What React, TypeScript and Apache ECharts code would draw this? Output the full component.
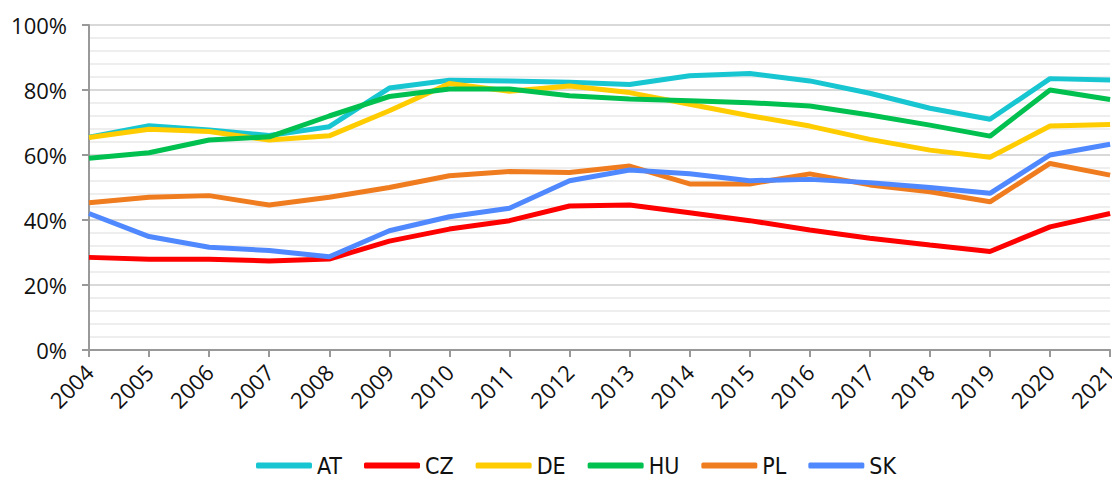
import React, { useEffect, useRef } from "react";
import * as echarts from "echarts";

const years = ["2004","2005","2006","2007","2008","2009","2010","2011","2012","2013","2014","2015","2016","2017","2018","2019","2020","2021"];
const AT = [65.5, 69, 67.7, 66, 68.7, 80.6, 83, 82.8, 82.4, 81.7, 84.4, 85.1, 82.8, 79, 74.4, 71, 83.5, 83.1];
const CZ = [28.5, 27.9, 27.9, 27.4, 28, 33.5, 37.2, 39.8, 44.3, 44.6, 42.2, 39.8, 36.9, 34.4, 32.3, 30.3, 37.9, 42];
const DE = [65.4, 67.9, 67.2, 64.6, 65.9, 73.6, 82, 79.6, 81.2, 79.2, 75.6, 72.1, 68.9, 64.8, 61.5, 59.3, 68.9, 69.4];
const HU = [59, 60.7, 64.6, 65.6, 72, 78, 80.3, 80.3, 78.2, 77.2, 76.7, 76.1, 75.1, 72.3, 69.2, 65.8, 80, 77.1];
const PL = [45.3, 47, 47.5, 44.6, 47, 50, 53.6, 54.9, 54.6, 56.6, 51.1, 51.1, 54.2, 50.8, 48.7, 45.6, 57.4, 53.8];
const SK = [42, 34.9, 31.6, 30.6, 28.7, 36.7, 41, 43.6, 52.1, 55.4, 54.2, 52.1, 52.5, 51.5, 50, 48.2, 60, 63.3];

const seriesDefs = [
  { name: "AT", data: AT, color: "#17C6D1" },
  { name: "CZ", data: CZ, color: "#FF0000" },
  { name: "DE", data: DE, color: "#FFCC00" },
  { name: "HU", data: HU, color: "#00C050" },
  { name: "PL", data: PL, color: "#F07C20" },
  { name: "SK", data: SK, color: "#5089FF" },
];

export default function App() {
  const ref = useRef<HTMLDivElement>(null);
  useEffect(() => {
    const chart = echarts.init(ref.current!, null, { renderer: "svg" });
    chart.setOption({
      animation: false,
      textStyle: { fontFamily: "Open Sans" },
      grid: { left: 81, right: 7, top: 17, bottom: 127, containLabel: false },
      legend: {
        top: 441,
        left: 243,
        icon: "roundRect",
        itemWidth: 56,
        itemHeight: 6,
        itemGap: 22,
        textStyle: {
          fontSize: 23,
          color: "#111",
          fontFamily: "'Liberation Sans Narrow', 'DejaVu Sans Condensed', Lato",
        },
        data: seriesDefs.map((s) => s.name),
      },
      xAxis: {
        type: "category",
        data: years,
        boundaryGap: false,
        axisLine: { lineStyle: { color: "#999", width: 2 } },
        axisTick: { show: true, length: 7, lineStyle: { color: "#999", width: 2 } },
        axisLabel: { rotate: 45, fontSize: 22, color: "#111", margin: 18, interval: 0 },
        splitLine: { show: false },
      },
      yAxis: {
        type: "value",
        min: 0,
        max: 100,
        interval: 20,
        axisLine: { show: true, lineStyle: { color: "#999", width: 2 } },
        axisTick: { show: true, length: 7, lineStyle: { color: "#999", width: 2 } },
        axisLabel: { formatter: "{value}%", fontSize: 22, color: "#111", margin: 22 },
        splitLine: { show: true, lineStyle: { color: "#d9d9d9", width: 2 } },
        minorTick: { show: false, splitNumber: 5 },
        minorSplitLine: { show: true, lineStyle: { color: "#eeeeee", width: 2 } },
      },
      series: seriesDefs.map((s) => ({
        name: s.name,
        type: "line",
        data: s.data,
        showSymbol: false,
        symbol: "none",
        lineStyle: { width: 5, color: s.color },
        itemStyle: { color: s.color },
      })),
    });
    return () => chart.dispose();
  }, []);
  return <div ref={ref} style={{ width: 1112, height: 469 }} />;
}
